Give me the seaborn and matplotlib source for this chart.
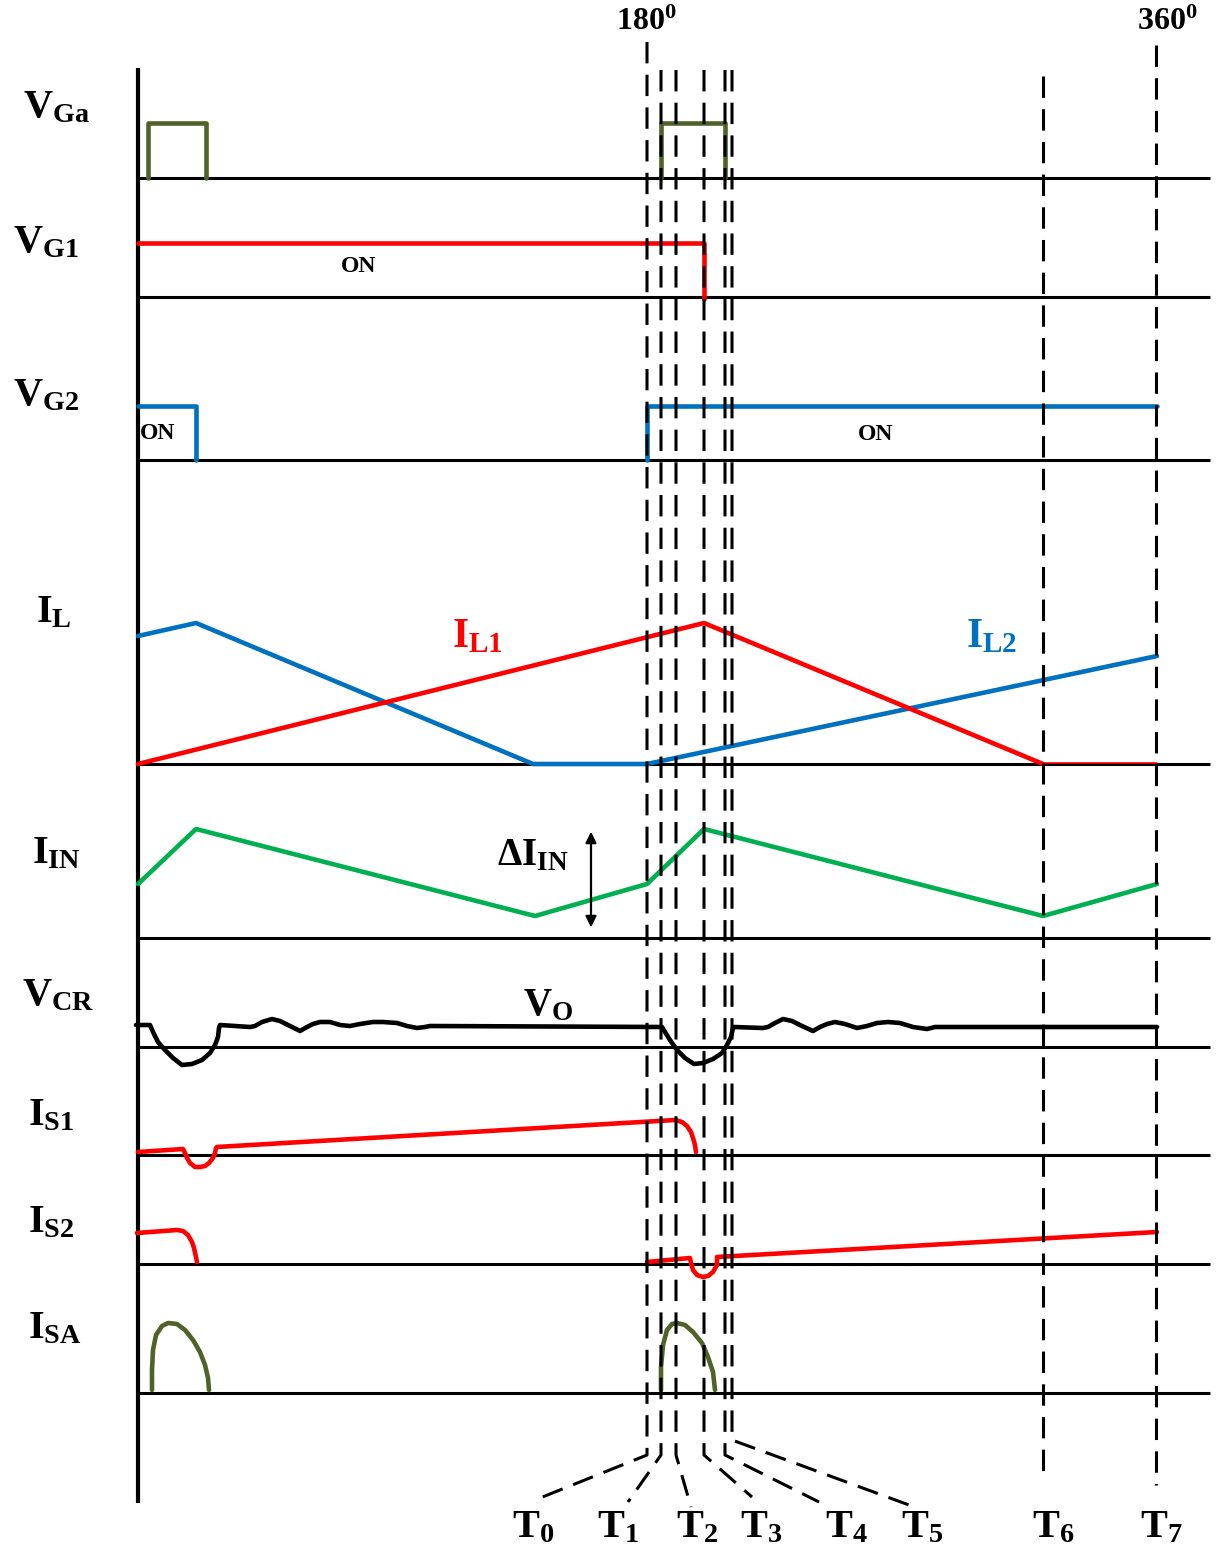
import matplotlib
matplotlib.use('Agg')
import matplotlib.pyplot as plt
import seaborn as sns

# everything is laid out on a pixel canvas, y grows downwards
W, H = 1222, 1548

# zero line of every trace
trace_labels = [r'$\mathrm{V}_{\mathrm{Ga}}$', r'$\mathrm{V}_{\mathrm{G1}}$', r'$\mathrm{V}_{\mathrm{G2}}$',
                r'$\mathrm{I}_{\mathrm{L}}$', r'$\mathrm{I}_{\mathrm{IN}}$', r'$\mathrm{V}_{\mathrm{CR}}$',
                r'$\mathrm{I}_{\mathrm{S1}}$', r'$\mathrm{I}_{\mathrm{S2}}$', r'$\mathrm{I}_{\mathrm{SA}}$']
trace_zero = [178, 297, 460, 764, 938, 1047, 1155, 1264, 1393]
label_x = [23, 13, 13, 36, 32, 22, 28, 28, 28]
label_y = [117, 252, 405, 622, 863, 1005, 1125, 1232, 1338]

# gate signals
vga1_x = [148, 148, 206, 206]
vga1_y = [178, 123, 123, 178]
vga2_x = [661, 661, 725, 725]
vga2_y = [178, 123, 123, 178]
vg1_x = [138, 704, 704]
vg1_y = [243, 243, 299]
vg2a_x = [138, 196, 196]
vg2a_y = [406, 406, 460]
vg2b_x = [647, 647, 1157]
vg2b_y = [460, 406, 406]

# inductor currents and input current
il1_x = [138, 704, 1043]
il1_y = [764, 623, 764]
il1_tail_x = [1043, 1157]
il1_tail_y = [763, 763]
il2_x = [138, 196, 533, 647, 1157]
il2_y = [636, 623, 764, 764, 656]
iin_x = [138, 196, 535, 647, 704, 1043, 1157]
iin_y = [884, 829, 916, 884, 829, 916, 884]

# resonant capacitor voltage
vcr_x = [136, 150, 153, 158, 165, 173, 182, 192, 202, 210, 215, 218, 219, 220,
         250, 255, 262, 272, 280, 290, 300, 307, 313, 320, 330, 340, 350, 360, 373, 383, 397, 407, 417,
         425, 430,
         662, 665, 670, 677, 685, 694, 703, 713, 722, 727, 731, 733, 734,
         763, 768, 775, 783, 792, 802, 813, 820, 827, 835, 845, 857, 867, 877, 888, 900, 913, 927, 935,
         940, 1157]
vcr_y = [1025, 1025, 1032, 1042, 1050, 1058, 1065, 1064, 1060, 1053, 1045, 1037, 1028, 1025,
         1027, 1026, 1022, 1019, 1021, 1026, 1031, 1027, 1024, 1022, 1022, 1025, 1026, 1024, 1022, 1022,
         1023, 1026, 1028, 1027, 1026,
         1027, 1032, 1040, 1050, 1058, 1064, 1063, 1059, 1053, 1045, 1037, 1028, 1027,
         1028, 1027, 1023, 1019, 1021, 1026, 1031, 1027, 1024, 1022, 1024, 1028, 1026, 1023, 1022, 1023,
         1027, 1029, 1027, 1027, 1027]

# switch currents
is1_x = [138, 183, 185, 187, 190, 195, 200, 205, 209, 213, 215, 216, 217,
         675, 682, 687, 691, 693, 695, 696]
is1_y = [1152, 1149, 1153, 1158, 1163, 1167, 1167, 1166, 1163, 1158, 1153, 1148, 1147,
         1120, 1122, 1126, 1132, 1138, 1145, 1152]
is2a_x = [137, 177, 183, 188, 192, 194, 196, 197]
is2a_y = [1233, 1230, 1231, 1235, 1242, 1248, 1257, 1262]
is2b_x = [647, 690, 691, 693, 697, 703, 708, 713, 717, 717, 1157]
is2b_y = [1262, 1258, 1263, 1270, 1275, 1277, 1276, 1272, 1265, 1257, 1232]
isa1_x = [152, 152, 153, 156, 162, 168, 177, 185, 193, 200, 205, 208, 209]
isa1_y = [1390, 1370, 1350, 1335, 1326, 1323, 1324, 1330, 1340, 1352, 1365, 1378, 1390]
isa2_x = [661, 661, 663, 667, 672, 677, 685, 693, 702, 708, 713, 715]
isa2_y = [1390, 1367, 1345, 1330, 1324, 1323, 1325, 1332, 1343, 1357, 1372, 1390]

# time instants (dashed markers) and their labels
dash_x = [647, 661, 676, 704, 725, 732, 1043, 1156]
dash_top = [42, 70, 70, 70, 70, 70, 76, 45]
dash_bottom = [1455, 1455, 1455, 1455, 1455, 1440, 1480, 1485]
leader_x = [535, 628, 691, 752, 819, 909]
leader_y = [1500, 1502, 1507, 1497, 1502, 1505]
t_labels = [r'$\mathrm{T}_{\mathrm{%d}}$' % i for i in range(8)]
t_label_x = [512, 597, 676, 740, 825, 901, 1032, 1140]

RED = '#FF0000'
BLUE = '#0070C0'
GREEN = '#00B050'
OLIVE = '#4F6228'

sns.set_theme(style='white')
plt.rcParams['font.family'] = ['Liberation Serif', 'DejaVu Serif']
plt.rcParams['font.weight'] = 'bold'
plt.rcParams['text.color'] = 'black'
plt.rcParams['mathtext.fontset'] = 'custom'
plt.rcParams['mathtext.rm'] = 'Liberation Serif:bold'
plt.rcParams['mathtext.it'] = 'Liberation Serif:bold'
plt.rcParams['mathtext.bf'] = 'Liberation Serif:bold'

fig = plt.figure(figsize=(W / 100, H / 100), dpi=100)
ax = fig.add_axes([0, 0, 1, 1])

# axis and zero lines
ax.plot([138, 138], [68, 1503], color='black', lw=3.0, solid_capstyle='butt')
for y0 in trace_zero:
    ax.plot([138, 1210], [y0, y0], color='black', lw=2.2, solid_capstyle='butt')

LW = 3.3
def trace(x, y, color, lw=LW):
    sns.lineplot(x=x, y=y, sort=False, estimator=None, color=color, linewidth=lw, ax=ax,
                 solid_joinstyle='round', solid_capstyle='round')

trace(vga1_x, vga1_y, OLIVE)
trace(vga2_x, vga2_y, OLIVE)
trace(vg1_x, vg1_y, RED)
trace(vg2a_x, vg2a_y, BLUE)
trace(vg2b_x, vg2b_y, BLUE)
trace(il2_x, il2_y, BLUE)
trace(il1_x, il1_y, RED)
trace(il1_tail_x, il1_tail_y, RED, lw=1.2)
trace(iin_x, iin_y, GREEN)
trace(vcr_x, vcr_y, 'black')
trace(is1_x, is1_y, RED)
trace(is2a_x, is2a_y, RED)
trace(is2b_x, is2b_y, RED)
trace(isa1_x, isa1_y, OLIVE)
trace(isa2_x, isa2_y, OLIVE)

# dashed time markers with leaders to the labels
for i, x0 in enumerate(dash_x):
    xs, ys = [x0, x0], [dash_top[i], dash_bottom[i]]
    if i < len(leader_x):
        xs.append(leader_x[i])
        ys.append(leader_y[i])
    ax.plot(xs, ys, color='black', lw=2.2, linestyle=(0, (7, 3.7)), solid_joinstyle='miter')

# delta I_IN arrow
ax.annotate('', xy=(591, 829), xytext=(591, 930),
            arrowprops=dict(arrowstyle='<|-|>', color='black', lw=1.6, mutation_scale=16))

# texts
for s, x, y in zip(trace_labels, label_x, label_y):
    ax.text(x, y, s, fontsize=29, ha='left', va='baseline')
for s, x in zip(t_labels, t_label_x):
    ax.text(x, 1537, s, fontsize=29, ha='left', va='baseline')
ax.text(616, 30, r'$\mathrm{180}^{\mathrm{0}}$', fontsize=23, ha='left', va='baseline')
ax.text(1137, 30, r'$\mathrm{360}^{\mathrm{0}}$', fontsize=23, ha='left', va='baseline')
ax.text(452, 647, r'$\mathrm{I}_{\mathrm{L1}}$', fontsize=30, color=RED, ha='left', va='baseline')
ax.text(966, 647, r'$\mathrm{I}_{\mathrm{L2}}$', fontsize=30, color=BLUE, ha='left', va='baseline')
ax.text(497, 865, r'$\mathrm{ΔI}_{\mathrm{IN}}$', fontsize=28, ha='left', va='baseline')
ax.text(523, 1015, r'$\mathrm{V}_{\mathrm{O}}$', fontsize=28, ha='left', va='baseline')
ax.text(341, 272, 'ON', fontsize=17, fontweight='bold', ha='left', va='baseline')
ax.text(140, 439, 'ON', fontsize=17, fontweight='bold', ha='left', va='baseline')
ax.text(858, 440, 'ON', fontsize=17, fontweight='bold', ha='left', va='baseline')

ax.set_xlim(0, W)
ax.set_ylim(H, 0)
ax.axis('off')

fig.savefig('out.png', dpi=100)
